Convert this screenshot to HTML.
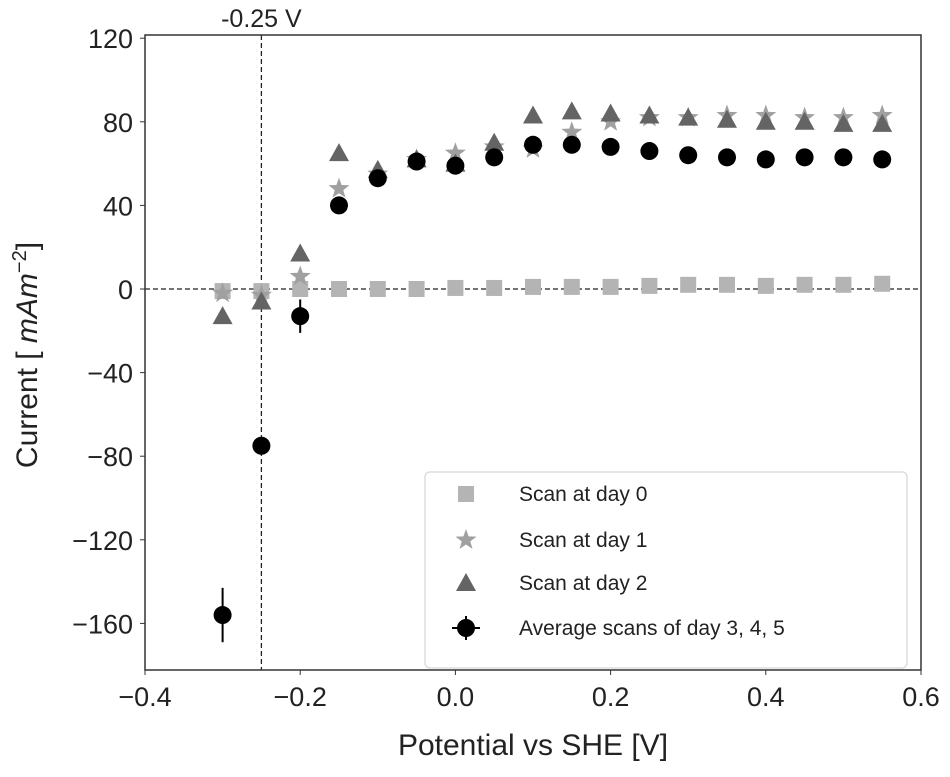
<!DOCTYPE html>
<html><head><meta charset="utf-8"><style>
body{margin:0;background:#fff;}
svg text{font-family:"Liberation Sans","DejaVu Sans",sans-serif;fill:#222;}
</style></head><body>
<svg id="chart" width="950" height="772" xmlns="http://www.w3.org/2000/svg">
<g id="plot"></g>
</svg>
<script>
const xs=[-0.3,-0.25,-0.2,-0.15,-0.1,-0.05,0,0.05,0.1,0.15,0.2,0.25,0.3,0.35,0.4,0.45,0.5,0.55];
const day0=[-1,-1,0,0,0,0,0.5,0.5,1,1,1,1.5,2,2,1.5,2,2,2.5];
const day1=[-2,-3,6,48,55,62,65,68,67,75,80,82,82,83,83,82,82,83];
const day2=[-13,-6,17,65,57,62,60,70,83,85,84,83,82,81,80,80,79,79];
const avg=[-156,-75,-13,40,53,61,59,63,69,69,68,66,64,63,62,63,63,62];
const avgErr=[13,3,8,4,3,2,2,2,2,2,2,2,2,2,2,2,2,2];
const xTicks=[-0.4,-0.2,0.0,0.2,0.4,0.6];
const yTicks=[120,80,40,0,-40,-80,-120,-160];
const legendLabels=["Scan at day 0","Scan at day 1","Scan at day 2","Average scans of day 3, 4, 5"];

const L=145,R=921,T=35,B=670;
const X=v=>L+(v+0.4)*(R-L)/1.0;
const Y=v=>289-v*2.09;
const NS="http://www.w3.org/2000/svg";
const g=document.getElementById('plot');
function mk(tag,attrs,parent){const e=document.createElementNS(NS,tag);for(const k in attrs)e.setAttribute(k,attrs[k]);(parent||g).appendChild(e);return e;}

function sq(x,y,p){return mk('rect',{x:x-8,y:y-8,width:16,height:16,fill:'#b4b4b4'},p);}
function star(x,y,p){let pts=[];for(let i=0;i<10;i++){const r=i%2?4.5:11;const a=-Math.PI/2+i*Math.PI/5;pts.push((x+r*Math.cos(a)).toFixed(1)+','+(y+r*Math.sin(a)).toFixed(1));}return mk('polygon',{points:pts.join(' '),fill:'#a0a0a0'},p);}
function tri(x,y,p){return mk('polygon',{points:`${x},${y-10} ${x-10},${y+8} ${x+10},${y+8}`,fill:'#646464'},p);}
function dot(x,y,p){return mk('circle',{cx:x,cy:y,r:9,fill:'#000'},p);}

let e=mk('line',{x1:L,x2:R,y1:Y(0),y2:Y(0),stroke:'#222','stroke-width':1.3,'stroke-dasharray':'5,3'});


e=mk('line',{x1:X(-0.25),x2:X(-0.25),y1:T,y2:B,stroke:'#222','stroke-width':1.3,'stroke-dasharray':'5,3'});


e=mk('text',{x:X(-0.25),y:27,'text-anchor':'middle','font-size':25});e.textContent='-0.25 V';



xs.forEach((x,i)=>{let m=sq(X(x),Y(day0[i]));

});
xs.forEach((x,i)=>{let m=star(X(x),Y(day1[i]));

});
xs.forEach((x,i)=>{let m=tri(X(x),Y(day2[i]));

});
xs.forEach((x,i)=>{let l=mk('line',{x1:X(x),x2:X(x),y1:Y(avg[i]-avgErr[i]),y2:Y(avg[i]+avgErr[i]),stroke:'#000','stroke-width':2});


let m=dot(X(x),Y(avg[i]));

});

e=mk('rect',{x:L,y:T,width:R-L,height:B-T,fill:'none',stroke:'#333','stroke-width':1.5});



xTicks.forEach(v=>{mk('line',{x1:X(v),x2:X(v),y1:B,y2:B+5,stroke:'#333'});
let t=mk('text',{x:X(v),y:B+36,'text-anchor':'middle','font-size':27});t.textContent=(v<0?'\u2212':'')+Math.abs(v).toFixed(1);

});
yTicks.forEach(v=>{mk('line',{x1:L-5,x2:L,y1:Y(v),y2:Y(v),stroke:'#333'});
let t=mk('text',{x:L-12,y:Y(v)+10,'text-anchor':'end','font-size':27});t.textContent=(v<0?'\u2212':'')+Math.abs(v);

});

e=mk('text',{x:(L+R)/2,y:755,'text-anchor':'middle','font-size':30});e.textContent='Potential vs SHE [V]';


e=mk('text',{x:0,y:0,'text-anchor':'middle','font-size':30,transform:'translate(37,355) rotate(-90)'});
e.innerHTML='Current  [ <tspan font-style="italic">mAm</tspan><tspan dy="-11" font-size="20">\u22122</tspan><tspan dy="11">]</tspan>';



const lg=mk('g',{});


mk('rect',{x:425,y:472,width:482,height:196,rx:5,fill:'#fff',stroke:'#ddd','stroke-width':1.5},lg);
const ly=[494,540,583,628];
const fns=[sq,star,tri,dot];
legendLabels.forEach((s,i)=>{const ent=mk('g',{},lg);


if(i===3){mk('line',{x1:466,x2:466,y1:ly[i]-12,y2:ly[i]+12,stroke:'#000','stroke-width':2},ent);mk('line',{x1:452,x2:480,y1:ly[i],y2:ly[i],stroke:'#000','stroke-width':2},ent);}
fns[i](466,ly[i],ent);
const t=mk('text',{x:519,y:ly[i]+7,'font-size':21},ent);t.textContent=s;});
</script>
</body></html>
